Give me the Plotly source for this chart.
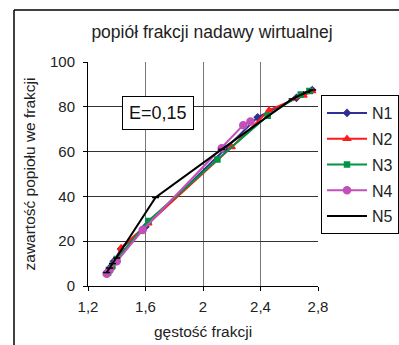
import plotly.graph_objects as go

title = "popiół frakcji nadawy wirtualnej"
x_title = "gęstość frakcji"
y_title = "zawartość popiołu we frakcji"
note = "E=0,15"

x_ticks = [1.2, 1.6, 2.0, 2.4, 2.8]
x_tick_labels = ["1,2", "1,6", "2", "2,4", "2,8"]
y_ticks = [0, 20, 40, 60, 80, 100]

n1_x = [1.33, 1.35, 1.38, 1.43, 1.60, 2.15, 2.38, 2.65, 2.76]
n1_y = [6.0, 8.0, 11.0, 16.5, 26.5, 61.0, 75.3, 84.0, 87.5]
n2_x = [1.33, 1.36, 1.40, 1.43, 1.62, 2.20, 2.46, 2.70, 2.76]
n2_y = [5.5, 8.0, 12.0, 17.0, 28.0, 62.0, 78.5, 85.0, 87.0]
n3_x = [1.34, 1.37, 1.40, 1.62, 2.10, 2.45, 2.68, 2.74]
n3_y = [6.0, 9.0, 12.0, 29.0, 56.5, 76.0, 85.5, 87.0]
n4_x = [1.33, 1.35, 1.40, 1.58, 2.13, 2.28, 2.33]
n4_y = [5.5, 7.0, 11.0, 25.0, 61.5, 71.8, 73.4]
n5_x = [1.33, 1.35, 1.37, 1.40, 1.67, 2.13, 2.62, 2.72, 2.76]
n5_y = [6.0, 8.0, 10.0, 12.5, 39.5, 61.0, 83.5, 86.5, 87.5]

series = [
    ("N1", n1_x, n1_y, "#2e3192", "diamond", 5),
    ("N2", n2_x, n2_y, "#ff1a1a", "triangle-up", 6),
    ("N3", n3_x, n3_y, "#009444", "square", 5),
    ("N4", n4_x, n4_y, "#c150b8", "circle", 7),
    ("N5", n5_x, n5_y, "#000000", "line-ew", 5),
]

fig = go.Figure()
for i, (name, xs, ys, col, sym, sz) in enumerate(series):
    fig.add_trace(go.Scatter(
        x=xs, y=ys, name=name, mode="lines+markers", legendgroup=name,
        line=dict(color=col, width=2),
        marker=dict(symbol=sym, size=sz, color=col, line=dict(color=col, width=1.5)),
    ))

W, H = 399, 345
L, R, T, B = 88, 81, 62, 59
pw, ph = W - L - R, H - T - B

def px(xp):
    return (xp - L) / pw

def py(yp):
    return (H - B - yp) / ph

font_family = "Liberation Sans, Arial, sans-serif"
fig.update_layout(
    width=W, height=H,
    margin=dict(l=L, r=R, t=T, b=B, autoexpand=False),
    paper_bgcolor="white", plot_bgcolor="white",
    font=dict(family=font_family, color="#222", size=15),
    title=dict(text=title, x=212 / W, y=1 - 32 / H, xanchor="center", yanchor="middle",
               font=dict(size=17.5, color="#222")),
    showlegend=True,
    legend=dict(x=px(321), y=py(95), xanchor="left", yanchor="top",
                bordercolor="#000", borderwidth=1, bgcolor="white",
                font=dict(size=16, color="#222"), tracegroupgap=2,
                itemwidth=40),
    xaxis=dict(range=[1.2, 2.8], tickvals=x_ticks, ticktext=x_tick_labels,
               showgrid=True, gridcolor="#777", gridwidth=1,
               showline=True, linecolor="#000", linewidth=1,
               ticks="outside", ticklen=4, tickcolor="#000", ticklabelstandoff=3,
               tickfont=dict(size=15, color="#222"), zeroline=False,
               title=dict(text=x_title, font=dict(size=15.5, color="#222"), standoff=12)),
    yaxis=dict(range=[0, 100], tickvals=y_ticks,
               showgrid=True, gridcolor="#333", gridwidth=1,
               showline=True, linecolor="#000", linewidth=1,
               ticks="outside", ticklen=4, tickcolor="#000", ticklabelstandoff=5,
               tickfont=dict(size=15, color="#222"), zeroline=False,
               title=dict(text=y_title, font=dict(size=15.5, color="#222"), standoff=10)),
)

fig.add_annotation(x=px(158), y=py(112.5), xref="paper", yref="paper",
                   xanchor="center", yanchor="middle",
                   text=note, showarrow=False, font=dict(size=18, color="#111"),
                   bordercolor="#000", borderwidth=1, borderpad=6, bgcolor="white")

fig.add_shape(type="line", xref="paper", yref="paper",
              x0=px(14), x1=px(14), y0=py(H + 5), y1=py(10),
              line=dict(color="#000", width=1.5))
fig.add_shape(type="line", xref="paper", yref="paper",
              x0=px(14), x1=px(W + 5), y0=py(10), y1=py(10),
              line=dict(color="#000", width=1.5))

fig.write_html("out.html")
